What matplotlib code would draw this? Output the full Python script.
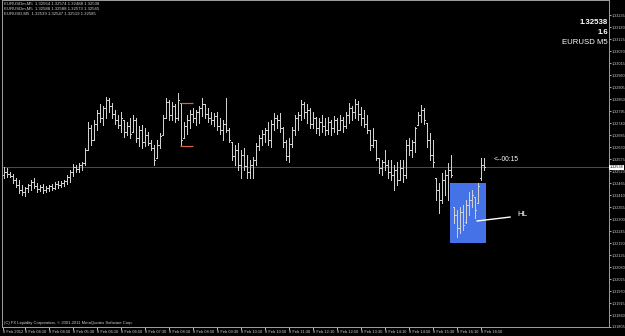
import matplotlib
matplotlib.use('Agg')
import matplotlib.pyplot as plt
from matplotlib.patches import Rectangle

plt.rcParams['font.family'] = ['Liberation Sans', 'DejaVu Sans']

# EURUSD M5 bars, 8 Feb 2012
highs = [
    1.32539, 1.32534, 1.32516, 1.32507, 1.32488, 1.32479, 1.32456, 1.32447, 1.32461, 1.32479,
    1.32488, 1.32465, 1.32456, 1.32461, 1.32452, 1.32456, 1.32461, 1.32470, 1.32474, 1.32474,
    1.32479, 1.32502, 1.32525, 1.32552, 1.32548, 1.32557, 1.32562, 1.32626, 1.32745, 1.32731,
    1.32754, 1.32800, 1.32827, 1.32818, 1.32859, 1.32855, 1.32832, 1.32800, 1.32777, 1.32791,
    1.32754, 1.32745, 1.32763, 1.32777, 1.32763, 1.32727, 1.32731, 1.32717, 1.32699, 1.32662,
    1.32639, 1.32662, 1.32694, 1.32777, 1.32855, 1.32846, 1.32837, 1.32827, 1.32878, 1.32832,
    1.32745, 1.32777, 1.32800, 1.32809, 1.32800, 1.32818, 1.32855, 1.32827, 1.32809, 1.32791,
    1.32786, 1.32791, 1.32763, 1.32754, 1.32855, 1.32717, 1.32653, 1.32639, 1.32649, 1.32617,
    1.32626, 1.32594, 1.32571, 1.32584, 1.32649, 1.32685, 1.32708, 1.32717, 1.32745, 1.32754,
    1.32786, 1.32777, 1.32786, 1.32722, 1.32662, 1.32672, 1.32722, 1.32777, 1.32791, 1.32846,
    1.32837, 1.32827, 1.32809, 1.32791, 1.32768, 1.32763, 1.32777, 1.32763, 1.32768, 1.32754,
    1.32772, 1.32763, 1.32777, 1.32768, 1.32791, 1.32832, 1.32818, 1.32850, 1.32841, 1.32814,
    1.32800, 1.32777, 1.32708, 1.32717, 1.32662, 1.32580, 1.32571, 1.32617, 1.32571, 1.32571,
    1.32548, 1.32562, 1.32571, 1.32571, 1.32662, 1.32672, 1.32662, 1.32722, 1.32791, 1.32823,
    1.32809, 1.32740, 1.32694, 1.32662, 1.32488, 1.32465, 1.32511, 1.32525, 1.32557, 1.32594,
    1.32355, 1.32342, 1.32355, 1.32364, 1.32387, 1.32424, 1.32433, 1.32401, 1.32465, 1.32580, 1.32580,
]
lows = [
    1.32488, 1.32493, 1.32493, 1.32465, 1.32447, 1.32419, 1.32410, 1.32406, 1.32424, 1.32433,
    1.32442, 1.32424, 1.32429, 1.32419, 1.32424, 1.32429, 1.32433, 1.32438, 1.32442, 1.32447,
    1.32452, 1.32461, 1.32470, 1.32497, 1.32516, 1.32516, 1.32525, 1.32548, 1.32617, 1.32639,
    1.32662, 1.32708, 1.32745, 1.32731, 1.32763, 1.32791, 1.32763, 1.32736, 1.32717, 1.32699,
    1.32676, 1.32685, 1.32672, 1.32699, 1.32653, 1.32635, 1.32626, 1.32635, 1.32639, 1.32617,
    1.32548, 1.32580, 1.32626, 1.32685, 1.32763, 1.32754, 1.32754, 1.32745, 1.32754, 1.32635,
    1.32672, 1.32690, 1.32717, 1.32745, 1.32731, 1.32740, 1.32772, 1.32763, 1.32745, 1.32736,
    1.32727, 1.32708, 1.32690, 1.32662, 1.32699, 1.32653, 1.32571, 1.32548, 1.32525, 1.32488,
    1.32525, 1.32488, 1.32488, 1.32488, 1.32548, 1.32617, 1.32639, 1.32653, 1.32639, 1.32630,
    1.32708, 1.32717, 1.32699, 1.32630, 1.32571, 1.32562, 1.32630, 1.32685, 1.32708, 1.32754,
    1.32763, 1.32740, 1.32717, 1.32717, 1.32694, 1.32685, 1.32699, 1.32685, 1.32690, 1.32685,
    1.32699, 1.32690, 1.32708, 1.32699, 1.32717, 1.32740, 1.32754, 1.32763, 1.32754, 1.32731,
    1.32722, 1.32694, 1.32617, 1.32630, 1.32571, 1.32511, 1.32502, 1.32525, 1.32488, 1.32479,
    1.32433, 1.32456, 1.32479, 1.32470, 1.32488, 1.32594, 1.32584, 1.32607, 1.32731, 1.32745,
    1.32736, 1.32630, 1.32571, 1.32539, 1.32387, 1.32328, 1.32374, 1.32410, 1.32387, 1.32493,
    1.32282, 1.32218, 1.32236, 1.32250, 1.32282, 1.32319, 1.32355, 1.32305, 1.32374, 1.32479, 1.32525,
]
opens = [
    1.32502, 1.32516, 1.32507, 1.32497, 1.32479, 1.32456, 1.32433, 1.32424, 1.32442, 1.32456,
    1.32470, 1.32452, 1.32438, 1.32447, 1.32433, 1.32442, 1.32452, 1.32442, 1.32461, 1.32456,
    1.32465, 1.32474, 1.32493, 1.32516, 1.32539, 1.32529, 1.32548, 1.32557, 1.32617, 1.32717,
    1.32662, 1.32736, 1.32786, 1.32763, 1.32809, 1.32846, 1.32818, 1.32782, 1.32754, 1.32731,
    1.32754, 1.32699, 1.32727, 1.32699, 1.32754, 1.32672, 1.32708, 1.32653, 1.32685, 1.32649,
    1.32626, 1.32580, 1.32639, 1.32685, 1.32763, 1.32837, 1.32777, 1.32818, 1.32763, 1.32832,
    1.32672, 1.32727, 1.32754, 1.32782, 1.32763, 1.32791, 1.32809, 1.32827, 1.32782, 1.32763,
    1.32754, 1.32772, 1.32727, 1.32708, 1.32736, 1.32708, 1.32653, 1.32589, 1.32617, 1.32548,
    1.32594, 1.32543, 1.32516, 1.32548, 1.32571, 1.32635, 1.32672, 1.32690, 1.32708, 1.32662,
    1.32736, 1.32763, 1.32754, 1.32717, 1.32653, 1.32589, 1.32644, 1.32708, 1.32763, 1.32777,
    1.32827, 1.32791, 1.32800, 1.32736, 1.32763, 1.32717, 1.32745, 1.32727, 1.32708, 1.32745,
    1.32717, 1.32754, 1.32708, 1.32754, 1.32727, 1.32777, 1.32809, 1.32791, 1.32827, 1.32782,
    1.32763, 1.32736, 1.32708, 1.32639, 1.32662, 1.32580, 1.32534, 1.32562, 1.32548, 1.32516,
    1.32502, 1.32525, 1.32479, 1.32534, 1.32502, 1.32639, 1.32617, 1.32653, 1.32731, 1.32777,
    1.32800, 1.32740, 1.32662, 1.32594, 1.32488, 1.32433, 1.32387, 1.32479, 1.32502, 1.32525,
    1.32355, 1.32319, 1.32259, 1.32332, 1.32287, 1.32364, 1.32387, 1.32401, 1.32374, 1.32488, 1.32548,
]
closes = [
    1.32516, 1.32507, 1.32497, 1.32479, 1.32456, 1.32433, 1.32424, 1.32442, 1.32456, 1.32470,
    1.32452, 1.32438, 1.32447, 1.32433, 1.32442, 1.32452, 1.32442, 1.32461, 1.32456, 1.32465,
    1.32474, 1.32493, 1.32516, 1.32539, 1.32529, 1.32548, 1.32557, 1.32617, 1.32717, 1.32662,
    1.32736, 1.32786, 1.32763, 1.32809, 1.32846, 1.32818, 1.32782, 1.32754, 1.32731, 1.32763,
    1.32699, 1.32727, 1.32690, 1.32754, 1.32672, 1.32708, 1.32653, 1.32685, 1.32649, 1.32626,
    1.32571, 1.32639, 1.32681, 1.32763, 1.32837, 1.32777, 1.32818, 1.32763, 1.32846, 1.32662,
    1.32727, 1.32754, 1.32782, 1.32763, 1.32791, 1.32809, 1.32827, 1.32782, 1.32763, 1.32754,
    1.32772, 1.32727, 1.32708, 1.32736, 1.32708, 1.32662, 1.32589, 1.32617, 1.32548, 1.32594,
    1.32543, 1.32516, 1.32548, 1.32571, 1.32635, 1.32672, 1.32690, 1.32708, 1.32662, 1.32736,
    1.32763, 1.32754, 1.32717, 1.32653, 1.32589, 1.32644, 1.32708, 1.32763, 1.32777, 1.32827,
    1.32791, 1.32800, 1.32736, 1.32763, 1.32717, 1.32745, 1.32727, 1.32708, 1.32745, 1.32717,
    1.32754, 1.32708, 1.32754, 1.32727, 1.32777, 1.32809, 1.32791, 1.32827, 1.32782, 1.32763,
    1.32736, 1.32708, 1.32639, 1.32662, 1.32580, 1.32534, 1.32562, 1.32548, 1.32516, 1.32502,
    1.32525, 1.32479, 1.32534, 1.32502, 1.32639, 1.32617, 1.32653, 1.32717, 1.32777, 1.32800,
    1.32754, 1.32662, 1.32594, 1.32562, 1.32433, 1.32387, 1.32479, 1.32502, 1.32525, 1.32502,
    1.32319, 1.32259, 1.32332, 1.32273, 1.32364, 1.32387, 1.32410, 1.32342, 1.32452, 1.32548, 1.32538,
]

bid = 1.32538
price_ticks = [round(1.31805 + 0.00055 * k, 5) for k in range(27)]
time_ticks = [-0.5, 7, 15, 23, 31, 39, 47, 55, 63, 71, 79, 87, 95, 103, 111, 119, 127, 135, 143, 151, 159]
time_labels = ['8 Feb 2012', '8 Feb 04:10', '8 Feb 04:50', '8 Feb 05:30', '8 Feb 06:10',
               '8 Feb 06:50', '8 Feb 07:30', '8 Feb 08:10', '8 Feb 08:50', '8 Feb 09:30',
               '8 Feb 10:10', '8 Feb 10:50', '8 Feb 11:30', '8 Feb 12:10', '8 Feb 12:50',
               '8 Feb 13:30', '8 Feb 14:10', '8 Feb 14:50', '8 Feb 15:30', '8 Feb 16:10',
               '8 Feb 16:50']
header_lines = ['EURUSDm,M5  1.32564 1.32574 1.32488 1.32538',
                'EURUSDm,M5  1.32588 1.32588 1.32573 1.32565',
                'EURUSD,M5  1.32539 1.32547 1.32519 1.32585']

BG = 'black'
FG = '#d0d0d0'
W, H = 625, 336
PX = 72 / 100  # one pixel in points

fig = plt.figure(figsize=(W / 100, H / 100), dpi=100, facecolor=BG)
ax = fig.add_axes([2 / W, 9 / H, 607 / W, 327 / H], facecolor=BG)

xs = list(range(len(highs)))
step = 1 / 3  # one pixel in bar units

ax.axhline(bid, color='#4a4a4a', lw=PX, zorder=1)

# selection rectangle and bracket
ax.add_patch(Rectangle((148.67, 1.32190), 12.0, 1.32465 - 1.32190,
                       facecolor='#4672e8', edgecolor='none', zorder=2))
for p in (highs[59], lows[59]):
    ax.hlines(p, 58.8, 63.0, color='#d8604a', lw=1.2 * PX, zorder=4)

bar_kw = dict(color=FG, lw=PX, zorder=3, antialiased=False)
ax.vlines(xs, lows, highs, **bar_kw)
ax.hlines(opens, [x - step for x in xs], xs, **bar_kw)
ax.hlines(closes, xs, [x + step for x in xs], **bar_kw)

ax.plot([157.7, 168.7], [1.32291, 1.32309], color='white', lw=1.0, zorder=5)
ax.text(171.0, 1.32319, 'HL', color='white', fontsize=5.8, va='center', ha='left')
ax.text(163.3, 1.32573, '<--00:15', color='white', fontsize=4.8, va='center', ha='left')

ax.set_xlim(-0.667, 201.67)
ax.set_ylim(1.31805, 1.33304)

ax.yaxis.tick_right()
ax.set_yticks(price_ticks)
ax.set_yticklabels(['%.5f' % p for p in price_ticks])
ax.tick_params(axis='y', colors=FG, labelsize=2.7, length=1.2, width=0.6, pad=0.4)
ax.set_xticks(time_ticks)
ax.set_xticklabels(time_labels, ha='left')
ax.tick_params(axis='x', colors=FG, labelsize=2.9, length=2, width=0.6, pad=0.5)

for side in ('left', 'right', 'bottom', 'top'):
    ax.spines[side].set_color('#9a9a9a')
    ax.spines[side].set_linewidth(PX)

ax.text(1.0015, bid, '%.5f' % bid, transform=ax.get_yaxis_transform(), fontsize=2.7,
        color='black', va='center', ha='left',
        bbox=dict(boxstyle='square,pad=0.12', facecolor='white', edgecolor='none'))

for k, line in enumerate(header_lines):
    fig.text(4 / W, 1 - (4 + 5 * k) / H, line, color=FG, fontsize=3.1, va='center', ha='left')

fig.text(608 / W, 1 - 22 / H, '1.32538', color='white', fontsize=5.6, fontweight='bold',
         va='center', ha='right')
fig.text(608 / W, 1 - 32 / H, '1.6', color='white', fontsize=5.6, fontweight='bold',
         va='center', ha='right')
fig.text(608 / W, 1 - 43 / H, 'EURUSD M5', color='white', fontsize=5.6, va='center', ha='right')
fig.text(4 / W, 1 - 323 / H, '(C) FX Liquidity Corporation, \u00a9 2001-2011 MetaQuotes Software Corp.',
         color=FG, fontsize=3.0, va='center', ha='left')

fig.savefig('out.png', dpi=100, facecolor=BG)
